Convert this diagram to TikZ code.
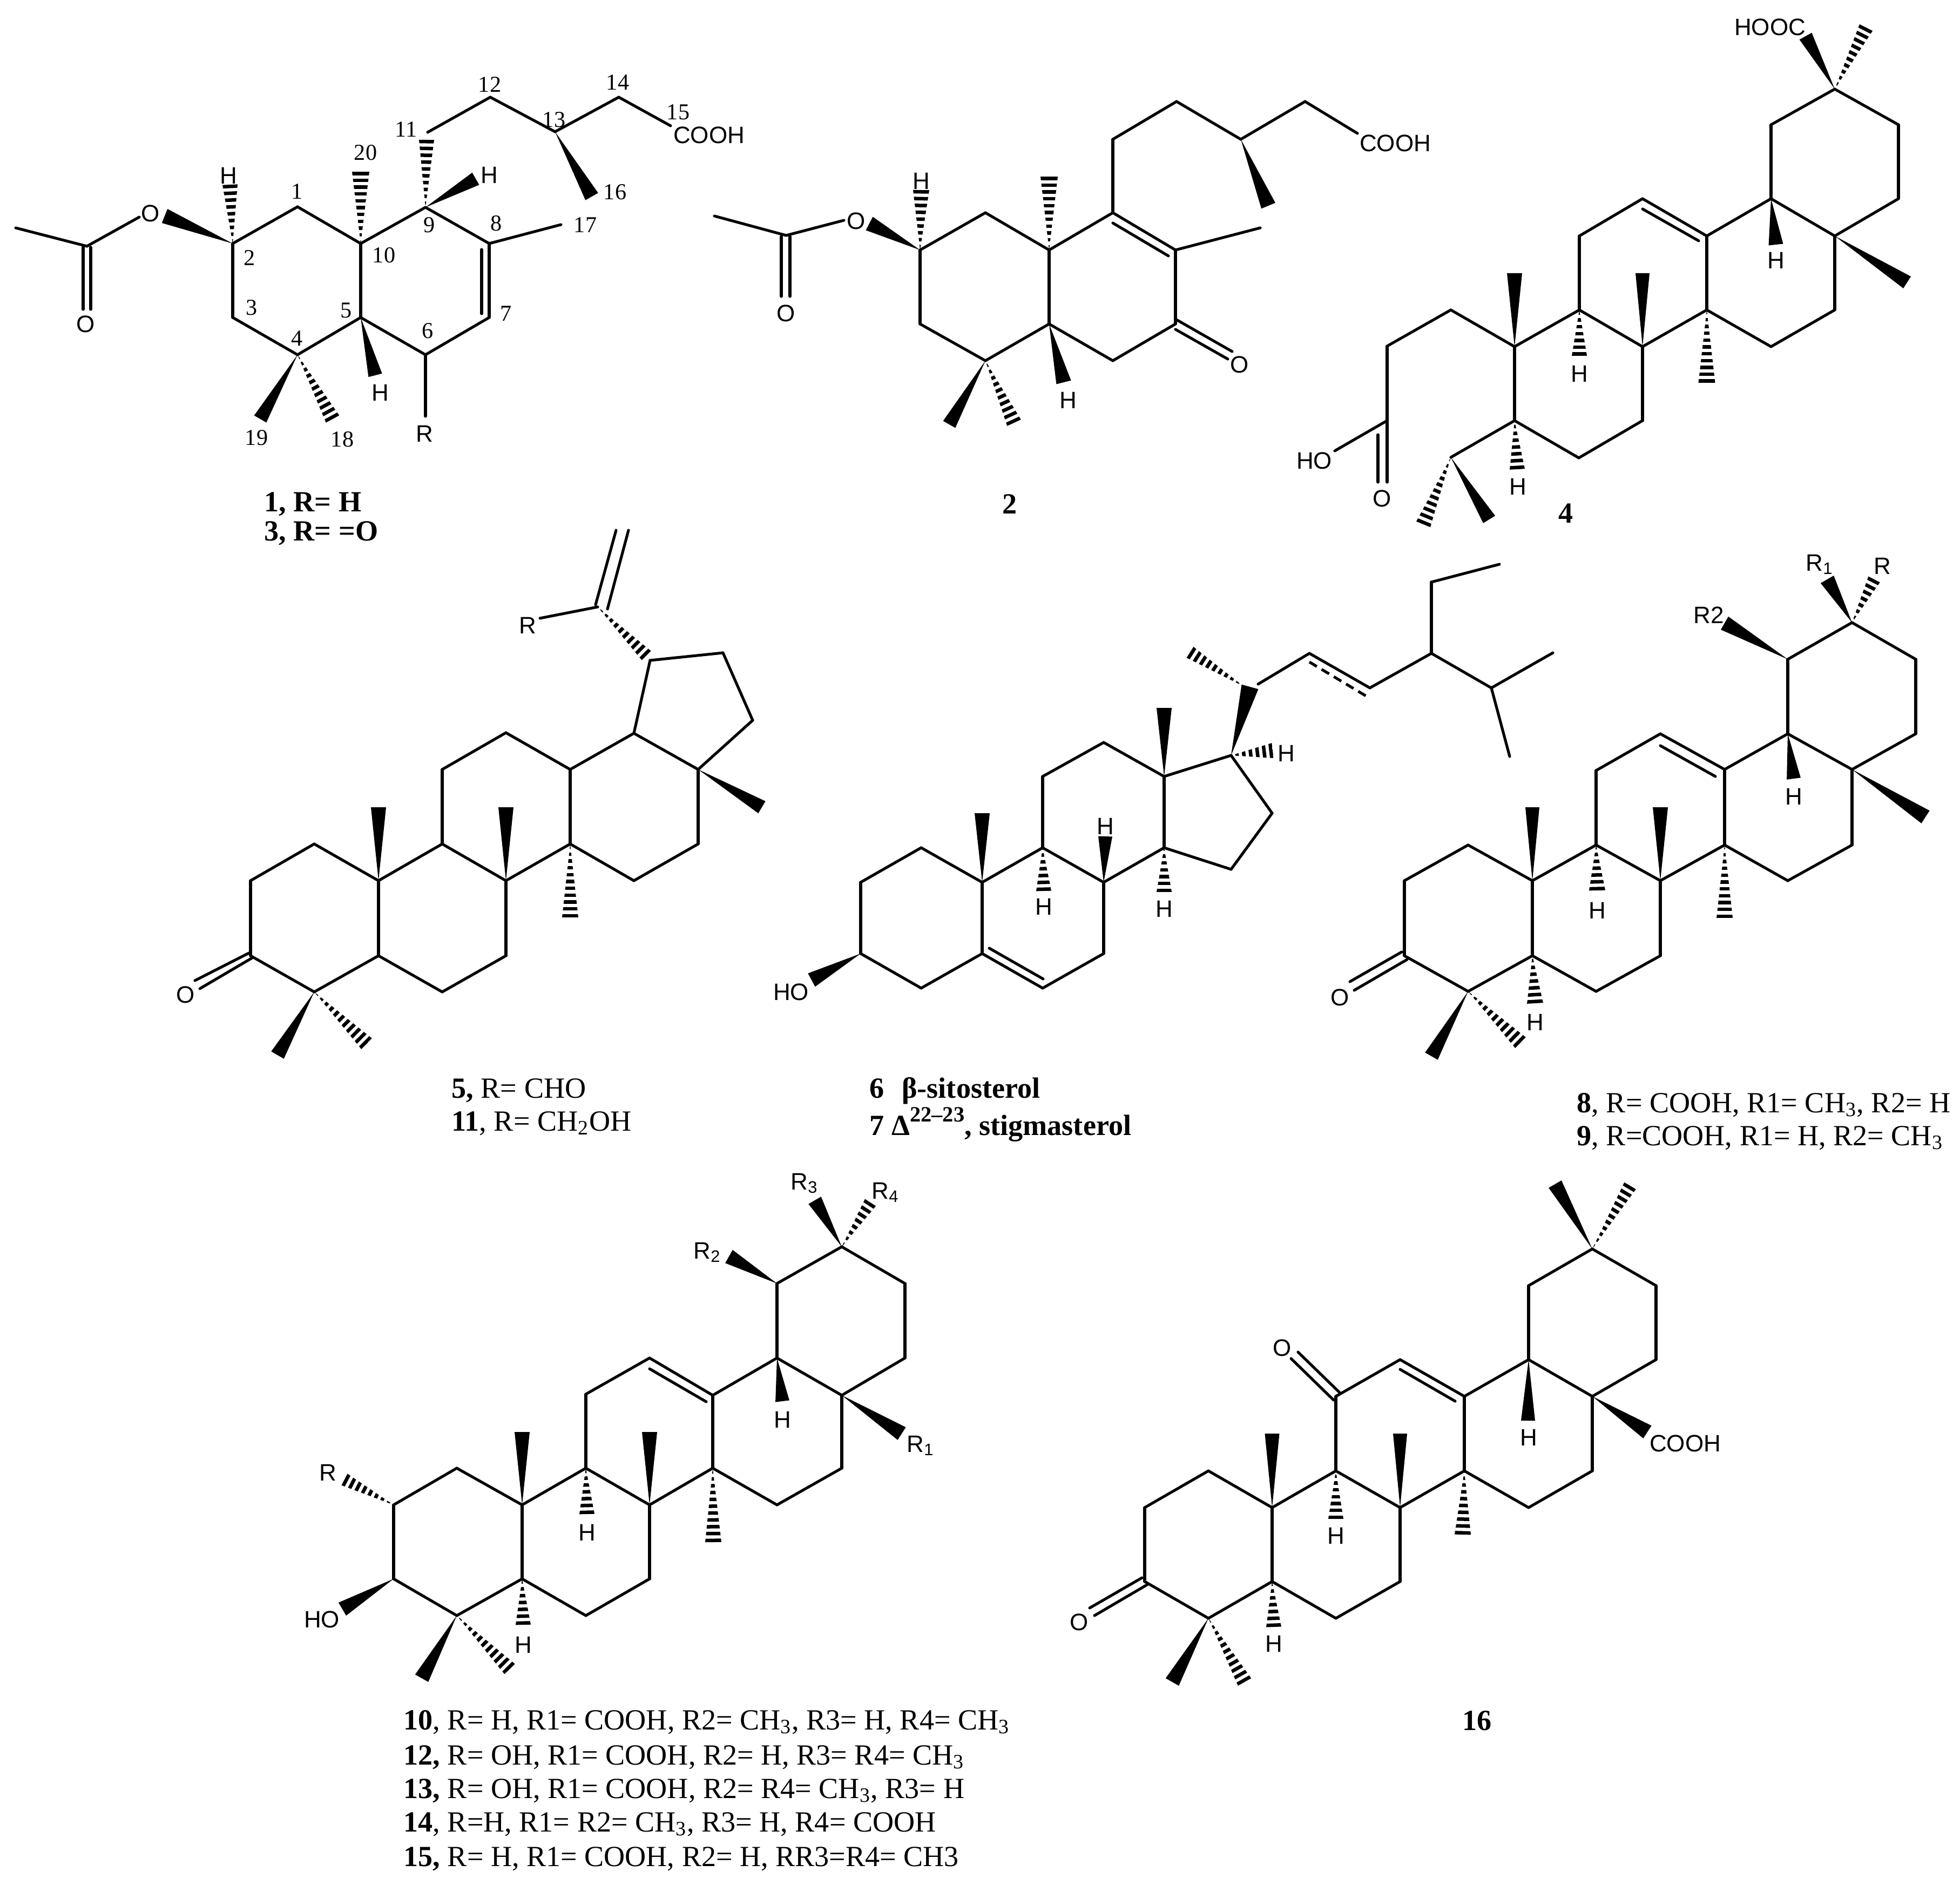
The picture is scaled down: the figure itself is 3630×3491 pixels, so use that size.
\documentclass[tikz,border=0pt]{standalone}
\usepackage{fontspec}
\setmainfont{Liberation Serif}
\setsansfont{Liberation Sans}
\usetikzlibrary{calc}
\tikzset{
  bond/.style={line width=1.45pt,line cap=round,black},
  dashbond/.style={line width=1.45pt,black,dash pattern=on 4.6pt off 2.9pt},
  atom/.style={font=\sffamily\fontsize{12.5}{14}\selectfont,inner sep=0pt,anchor=center},
  atomb/.style={font=\sffamily\fontsize{12.5}{14}\selectfont,inner sep=0pt,anchor=base west},
  num/.style={font=\rmfamily\fontsize{12}{14}\selectfont,inner sep=0pt,anchor=center},
  capt/.style={font=\rmfamily\fontsize{15.4}{18}\selectfont,inner sep=0pt,anchor=base west},
}
\newcommand\pts[1]{\foreach \n/\xx/\yy in {#1}{\coordinate (\n) at (\xx,\yy);}}
\newcommand\bonds[1]{\foreach \p/\q in {#1}{\draw[bond] (\p)--(\q);}}
\newcommand\wdg[3][14]{\fill[black] (#2) -- ($(#3)!#1*0.2845pt!90:(#2)$) -- ($(#3)!#1*0.2845pt!-90:(#2)$) -- cycle;}
\newcommand\hsh[3][14]{\begin{scope}
  \clip (#2) -- ($(#3)!#1*0.2845pt!90:(#2)$) -- ($(#3)!#1*0.2845pt!-90:(#2)$) -- cycle;
  \draw[black,line width=#1*0.62pt,dash pattern=on 1.85pt off 1.75pt] (#3) -- (#2);
\end{scope}}
\newcommand\olean[1]{\foreach \p/\q in {1/2,1/3,3/4,4/5,5/6,6/2,6/7,7/8,8/9,9/10,10/12,12/11,11/7,11/13,13/14,14/5,10/15,15/16,16/17,17/18,18/19,19/20,20/15,20/22,22/21,21/12}{\draw[bond] (#1\p)--(#1\q);}}
\begin{document}
\begin{tikzpicture}[x=0.01cm,y=-0.01cm]
\useasboundingbox (0,0) rectangle (3630,3491);
% ---------- compound 1
\pts{a1/431/451,a2/551/383,a3/668/451,a4/788/384,a5/906/451,a6/906/588,a7/788/657,a8/668/588,a9/551/657,a10/431/588,
a11/161/456,a12/29/422,a13/258/402,a14/305/400,a15/426/342,a16/668/318,a17/790/259,a18/881/331,a19/695/695,a20/482/776,a21/616/776,a22/788/771,
a23/792/245,a24/908/180,a25/1028/244,a26/1146/180,a27/1242/233,a28/1096/364,a29/1039/416,a30/154/458,a31/154/573,a32/168/458,a33/168/573,a34/892/462,a35/892/581}
\bonds{a1/a2,a2/a3,a3/a4,a4/a5,a5/a6,a6/a7,a7/a8,a8/a9,a9/a10,a10/a1,a3/a8,a7/a22,a13/a11,a11/a12,a30/a31,a32/a33,a34/a35,a23/a24,a24/a25,a25/a26,a26/a27,a5/a29}
\wdg{a1}{a14}\hsh[14]{a1}{a15}\hsh[16]{a3}{a16}\hsh[14]{a4}{a17}\wdg[13]{a4}{a18}\wdg[13]{a8}{a19}\wdg[13]{a9}{a20}\hsh[14]{a9}{a21}\wdg[13.5]{a25}{a28}
\node[atom] (aO1) at (279,395) {O};
\node[atom] (aO2) at (159,600) {O};
\node[atom] (aH1) at (423,325) {H};
\node[atom] (aH2) at (906,324) {H};
\node[atom] (aH3) at (704,727) {H};
\node[atom] (aR) at (786,803) {R};
\node[atom] (aCOOH) at (1313,250) {COOH};
\node[num] (an1) at (550,355) {1};
\node[num] (an2) at (462,478) {2};
\node[num] (an3) at (466,570) {3};
\node[num] (an4) at (550,627) {4};
\node[num] (an5) at (641,575) {5};
\node[num] (an6) at (792,613) {6};
\node[num] (an7) at (937,581) {7};
\node[num] (an8) at (919,414) {8};
\node[num] (an9) at (795,417) {9};
\node[num] (an10) at (711,473) {10};
\node[num] (an11) at (752,240) {11};
\node[num] (an12) at (907,157) {12};
\node[num] (an13) at (1026,222) {13};
\node[num] (an14) at (1144,153) {14};
\node[num] (an15) at (1256,208) {15};
\node[num] (an16) at (1139,356) {16};
\node[num] (an17) at (1084,417) {17};
\node[num] (an18) at (634,814) {18};
\node[num] (an19) at (475,811) {19};
\node[num] (an20) at (677,283) {20};
\node[capt] (cap1) at (489,947) {\textbf{1, R= H}};
\node[capt] (cap3) at (489,1001) {\textbf{3, R= =O}};
% ---------- compound 2
\pts{b1/1704/463,b2/1825/394,b3/1943/463,b4/2061/394,b5/2177/463,b6/2177/600,b7/2061/668,b8/1943/600,b9/1825/668,b10/1704/600,
b11/1456/436,b12/1323/400,b13/1563/408,b14/1610/414,b15/1706/352,b16/1943/327,b17/1970/708,b18/1758/786,b19/1878/783,
b20/2061/258,b21/2179/188,b22/2298/258,b23/2417/188,b24/2514/247,b25/2349/381,b26/2334/422,b27/2061/413,b28/2164/474,
b29/2177/591,b30/2282/651,b31/2177/610,b32/2274/665,b33/1447/438,b34/1447/549,b35/1463/438,b36/1463/549}
\bonds{b1/b2,b2/b3,b3/b4,b4/b5,b5/b6,b6/b7,b7/b8,b8/b9,b9/b10,b10/b1,b3/b8,b4/b20,b20/b21,b21/b22,b22/b23,b23/b24,b5/b26,b27/b28,b29/b30,b31/b32,b13/b11,b11/b12,b33/b34,b35/b36}
\wdg{b1}{b14}\hsh[15]{b1}{b15}\hsh[16]{b3}{b16}\wdg{b8}{b17}\wdg[13]{b9}{b18}\hsh{b9}{b19}\wdg{b22}{b25}
\node[atom] (bO1) at (1586,409) {O};
\node[atom] (bO2) at (1456,580) {O};
\node[atom] (bO3) at (2296,675) {O};
\node[atom] (bH1) at (1706,335) {H};
\node[atom] (bH2) at (1978,741) {H};
\node[atom] (bCOOH) at (2584,265) {COOH};
\node[capt] (cap2) at (1856,951) {\textbf{2}};
% ---------- compound 4
\pts{c1/3398/165,c2/3280/231,c3/3516/231,c4/3516/368,c5/3398/437,c6/3280/368,c7/3161/437,c8/3042/368,c9/2925/437,c10/2925/574,c11/3161/574,c12/3042/642,c13/3280/642,c14/3398/574,c15/2805/642,c16/2687/574,c17/2569/641,c18/2569/779,c19/2805/779,c20/3042/779,c21/2924/848,c22/2687/847,
c23/3042/387,c24/3146/446,c25/3532/523,c26/3289/453,c27/2805/506,c28/3042/506,c29/3161/709,c30/2925/659,c31/2810/869,c32/2758/962,c33/2636/971,c34/2472/835,c35/2552/805,c36/2552/893,c37/2569/893,c38/3344/67,c39/3456/51}
\bonds{c1/c2,c1/c3,c3/c4,c4/c5,c5/c6,c6/c2,c6/c7,c7/c8,c8/c9,c9/c10,c10/c12,c12/c11,c11/c7,c11/c13,c13/c14,c14/c5,c10/c15,c15/c16,c16/c17,c17/c18,c15/c19,c19/c22,c19/c21,c21/c20,c20/c12,c23/c24,c18/c34,c35/c36,c18/c37}
\wdg[13]{c5}{c25}\wdg[13.5]{c6}{c26}\wdg{c15}{c27}\wdg[13]{c12}{c28}\hsh[15.5]{c11}{c29}\hsh{c10}{c30}\hsh{c19}{c31}\wdg[13]{c22}{c32}\hsh{c22}{c33}\wdg[13]{c1}{c38}\hsh[13.5]{c1}{c39}
\node[atom] (cHOOC) at (3278,50) {HOOC};
\node[atom] (cH1) at (3289,482) {H};
\node[atom] (cH2) at (2925,692) {H};
\node[atom] (cH3) at (2811,901) {H};
\node[atom] (cHO) at (2434,853) {HO};
\node[atom] (cO) at (2560,923) {O};
\node[capt] (cap4) at (2886,968) {\textbf{4}};
% ---------- compound 5 / 11
\pts{e1/464/1770,e2/464/1631,e3/582/1563,e4/701/1631,e5/701/1770,e6/582/1837,e7/819/1837,e8/937/1770,e9/937/1631,e10/819/1563,e11/819/1425,e12/937/1357,e13/1056/1425,e14/1056/1563,e15/1174/1631,e16/1293/1563,e17/1293/1425,e18/1174/1358,e19/1204/1223,e20/1339/1209,e21/1394/1334,e22/1107/1124,
e23/1197/1214,e24/1103/1120,e25/1141/982,e26/1125/1128,e27/1164/982,e28/1000/1145,e29/1411/1495,e30/701/1495,e31/937/1495,e32/1056/1699,e33/461/1765,e34/361/1816,e35/467/1774,e36/370/1831,e37/514/1954,e38/679/1933}
\bonds{e1/e2,e2/e3,e3/e4,e4/e5,e5/e6,e6/e1,e5/e7,e7/e8,e8/e9,e9/e10,e10/e4,e10/e11,e11/e12,e12/e13,e13/e14,e14/e9,e14/e15,e15/e16,e16/e17,e17/e18,e18/e13,e17/e21,e21/e20,e20/e19,e19/e18,e24/e25,e26/e27,e28/e22,e33/e34,e35/e36}
\hsh[12]{e22}{e23}\wdg[13]{e17}{e29}\wdg{e4}{e30}\wdg{e9}{e31}\hsh[15]{e14}{e32}\wdg[13.5]{e6}{e37}\hsh{e6}{e38}
\node[atom] (eR) at (977,1158) {R};
\node[atom] (eO) at (344,1842) {O};
\node[capt] (cap5) at (836,2033) {\textbf{5,} R= CHO};
\node[capt] (cap11) at (836,2094) {\textbf{11}, R= CH\textsubscript{2}OH};
% ---------- compound 6 / 7
\pts{f1/1594/1766,f2/1594/1634,f3/1706/1570,f4/1819/1634,f5/1819/1766,f6/1706/1830,f7/1931/1830,f8/2044/1766,f9/2044/1634,f10/1931/1570,f11/1931/1438,f12/2044/1375,f13/2156/1438,f14/2156/1570,f15/2280/1399,f16/2356/1506,f17/2280/1610,f18/2330/1267,f19/2425/1210,f20/2537/1274,f21/2651/1210,f22/2651/1078,f23/2777/1045,f24/2762/1274,f25/2876/1209,f26/2796/1401,
f27/1832/1756,f28/1932/1813,f29/1819/1506,f30/2156/1311,f31/2047/1549,f32/1933/1650,f33/2156/1652,f34/1503/1815,f35/2315/1272,f36/2303/1271,f37/2204/1208,f38/2357/1390,f39/2425/1226,f40/2530/1289}
\bonds{f1/f2,f2/f3,f3/f4,f4/f5,f5/f6,f6/f1,f5/f7,f7/f8,f8/f9,f9/f10,f10/f4,f10/f11,f11/f12,f12/f13,f13/f14,f14/f9,f13/f15,f15/f16,f16/f17,f17/f14,f18/f19,f19/f20,f20/f21,f21/f22,f22/f23,f21/f24,f24/f25,f24/f26,f27/f28}
\draw[dashbond] (f39)--(f40);
\wdg{f4}{f29}\wdg{f13}{f30}\wdg[13]{f9}{f31}\hsh{f10}{f32}\hsh{f14}{f33}\wdg{f1}{f34}\wdg[16]{f15}{f35}\hsh[12]{f36}{f37}\hsh{f15}{f38}
\node[atom] (fH1) at (2047,1530) {H};
\node[atom] (fH2) at (1933,1679) {H};
\node[atom] (fH3) at (2156,1683) {H};
\node[atom] (fH4) at (2382,1395) {H};
\node[atom] (fHO) at (1465,1837) {HO};
\node[capt] (cap6) at (1610,2033) {\textbf{6\hspace{0.6em}β-sitosterol}};
\node[capt] (cap7) at (1610,2102) {\textbf{7 Δ\raisebox{7pt}{\fontsize{11.5}{12}\selectfont 22–23}, stigmasterol}};
% ---------- compound 8 / 9
\pts{h1/3430/1153,h2/3311/1221,h3/3548/1221,h4/3548/1359,h5/3430/1425,h6/3311/1359,h7/3194/1425,h8/3075/1359,h9/2956/1427,h10/2956/1565,h11/3194/1565,h12/3075/1631,h13/3311/1631,h14/3430/1565,h15/2838/1631,h16/2719/1565,h17/2601/1631,h18/2601/1770,h19/2719/1836,h20/2838/1770,h21/3075/1770,h22/2956/1836,
h23/3075/1381,h24/3177/1438,h25/3322/1442,h26/3566/1513,h27/2838/1495,h28/3075/1495,h29/3194/1700,h30/2958/1649,h31/2843/1858,h32/2596/1763,h33/2500/1818,h34/2606/1777,h35/2508/1834,h36/2651/1956,h37/2816/1931,h38/3194/1154,h39/3384/1073,h40/3471/1073}
\olean{h}
\bonds{h23/h24,h32/h33,h34/h35}
\wdg[13]{h6}{h25}\wdg{h5}{h26}\wdg[13]{h15}{h27}\wdg{h12}{h28}\hsh[15]{h11}{h29}\hsh[15]{h10}{h30}\hsh[15]{h20}{h31}\wdg[13.5]{h19}{h36}\hsh{h19}{h37}\wdg{h2}{h38}\wdg{h1}{h39}\hsh[12]{h1}{h40}
\node[atom] (hH1) at (3322,1475) {H};
\node[atom] (hH2) at (2958,1686) {H};
\node[atom] (hH3) at (2843,1893) {H};
\node[atom] (hO) at (2482,1847) {O};
\node[atom] (hR2) at (3165,1139) {R2};
\node[atomb] (hR1) at (3344,1057) {R\textsubscript{1}};
\node[atom] (hR) at (3486,1048) {R};
\node[capt] (cap8) at (2920,2060) {\textbf{8}, R= COOH, R1= CH\textsubscript{3}, R2= H};
\node[capt] (cap9) at (2920,2121) {\textbf{9}, R=COOH, R1= H, R2= CH\textsubscript{3}};
% ---------- compounds 10, 12-15
\pts{k1/1559/2309,k2/1439/2377,k3/1676/2377,k4/1676/2515,k5/1559/2584,k6/1439/2515,k7/1320/2584,k8/1203/2515,k9/1085/2582,k10/1085/2719,k11/1320/2719,k12/1203/2787,k13/1439/2787,k14/1559/2719,k15/967/2787,k16/846/2719,k17/729/2787,k18/729/2924,k19/846/2992,k20/967/2924,k21/1203/2924,k22/1085/2992,
k23/1203/2535,k24/1308/2596,k25/1449/2595,k26/1670/2655,k27/967/2652,k28/1203/2652,k29/1321/2856,k30/1087/2804,k31/969/3009,k32/638/2740,k33/634/2980,k34/781/3108,k35/944/3091,k36/1350/2327,k37/1509/2223,k38/1612/2227}
\olean{k}
\bonds{k23/k24}
\wdg[13]{k6}{k25}\wdg{k5}{k26}\wdg{k15}{k27}\wdg{k12}{k28}\hsh[15]{k11}{k29}\hsh{k10}{k30}\hsh{k20}{k31}\hsh[12]{k17}{k32}\wdg{k18}{k33}\wdg{k19}{k34}\hsh[13.5]{k19}{k35}\wdg{k2}{k36}\wdg[13.5]{k1}{k37}\hsh[12]{k1}{k38}
\node[atom] (kH1) at (1449,2629) {H};
\node[atom] (kH2) at (1087,2838) {H};
\node[atom] (kH3) at (969,3046) {H};
\node[atom] (kR) at (607,2727) {R};
\node[atom] (kHO) at (596,2999) {HO};
\node[atomb] (kR1) at (1679,2689) {R\textsubscript{1}};
\node[atomb] (kR2) at (1284,2331) {R\textsubscript{2}};
\node[atomb] (kR3) at (1464,2203) {R\textsubscript{3}};
\node[atomb] (kR4) at (1614,2220) {R\textsubscript{4}};
\node[capt] (cap10) at (747,3203) {\textbf{10}, R= H, R1= COOH, R2= CH\textsubscript{3}, R3= H, R4= CH\textsubscript{3}};
\node[capt] (cap12) at (747,3268) {\textbf{12,} R= OH, R1= COOH, R2= H, R3= R4= CH\textsubscript{3}};
\node[capt] (cap13) at (747,3330) {\textbf{13,} R= OH, R1= COOH, R2= R4= CH\textsubscript{3}, R3= H};
\node[capt] (cap14) at (747,3392) {\textbf{14}, R=H, R1= R2= CH\textsubscript{3}, R3= H, R4= COOH};
\node[capt] (cap15) at (747,3456) {\textbf{15,} R= H, R1= COOH, R2= H, RR3=R4= CH3};
% ---------- compound 16
\pts{n1/2949/2313,n2/2831/2381,n3/3067/2381,n4/3067/2518,n5/2949/2586,n6/2831/2518,n7/2712/2586,n8/2593/2518,n9/2474/2586,n10/2474/2724,n11/2712/2724,n12/2593/2792,n13/2831/2792,n14/2949/2724,n15/2356/2792,n16/2238/2724,n17/2120/2792,n18/2120/2929,n19/2238/2997,n20/2356/2929,n21/2593/2929,n22/2474/2997,
n23/2593/2536,n24/2695/2595,n25/2404/2504,n26/2481/2579,n27/2391/2516,n28/2470/2593,n29/2830/2631,n30/3051/2652,n31/2356/2655,n32/2593/2655,n33/2709/2842,n34/2474/2813,n35/2359/3013,n36/2115/2922,n37/2018/2978,n38/2126/2934,n39/2027/2992,n40/2171/3115,n41/2305/3115,n42/2880/2193,n43/3019/2196}
\olean{n}
\bonds{n23/n24,n25/n26,n27/n28,n36/n37,n38/n39}
\wdg[13]{n6}{n29}\wdg{n5}{n30}\wdg[13.5]{n15}{n31}\wdg[13]{n12}{n32}\hsh[15]{n11}{n33}\hsh{n10}{n34}\hsh{n20}{n35}\wdg{n19}{n40}\hsh{n19}{n41}\wdg[13.7]{n1}{n42}\hsh[12.5]{n1}{n43}
\node[atom] (nO1) at (2375,2496) {O};
\node[atom] (nO2) at (1999,3004) {O};
\node[atom] (nH1) at (2831,2662) {H};
\node[atom] (nH2) at (2474,2844) {H};
\node[atom] (nH3) at (2359,3044) {H};
\node[atom] (nCOOH) at (3121,2673) {COOH};
\node[capt] (cap16) at (2708,3204) {\textbf{16}};
\end{tikzpicture}
\end{document}
